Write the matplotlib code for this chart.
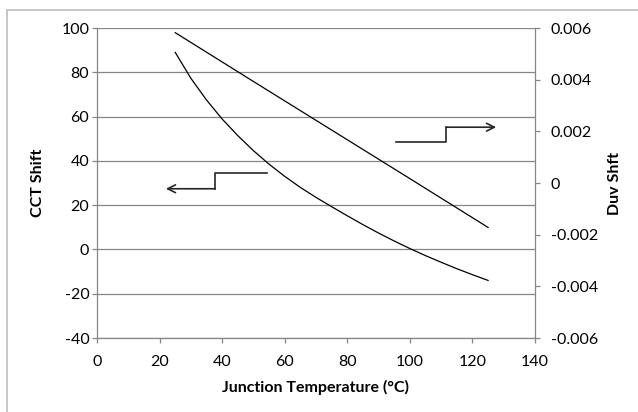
import matplotlib
matplotlib.use('Agg')
from matplotlib import pyplot as plt
from matplotlib.patches import Rectangle
from matplotlib.ticker import FuncFormatter, MultipleLocator

plt.rcParams['font.family'] = ['Lato', 'DejaVu Sans']
plt.rcParams['axes.unicode_minus'] = False

# junction temperature (deg C) vs CCT shift
temp_cct = [25, 30, 35, 40, 45, 50, 55, 60, 65, 70, 75, 80, 85, 90, 95,
            100, 105, 110, 115, 120, 125]
cct_shift = [89, 77.3, 67.5, 58.9, 51.4, 44.6, 38.5, 33.0, 28.0, 23.5, 19.3,
             15.2, 11.2, 7.4, 3.8, 0.4, -2.8, -5.8, -8.7, -11.4, -14.0]

# junction temperature (deg C) vs Duv shift
temp_duv = [25, 50, 75, 100, 125]
duv_shift = [0.00582, 0.00393, 0.00205, 0.00017, -0.00172]

# callout arrows (x in deg C, y in CCT units)
left_arrow_x = [54.2, 37.8, 37.8, 22.0]
left_arrow_y = [34.4, 34.4, 27.4, 27.4]
right_arrow_x = [95.7, 111.7, 111.7, 127.6]
right_arrow_y = [48.6, 48.6, 55.2, 55.2]

grey = '#868686'
W, H = 638, 412
fs = 11.5

fig = plt.figure(figsize=(W / 100, H / 100), dpi=100)
fig.patches.append(Rectangle((7 / W, -0.1), 1.2, 1 - 10 / H + 0.1,
                             transform=fig.transFigure, fill=False,
                             edgecolor='#bdbdbd', linewidth=1.2))

ax_l, ax_r, ax_t, ax_b = 97, 535, 28, 338
ax = fig.add_axes([ax_l / W, (H - ax_b) / H, (ax_r - ax_l) / W, (ax_b - ax_t) / H])
ax.set_xlim(0, 140)
ax.set_ylim(-40, 100)
ax.xaxis.set_major_locator(MultipleLocator(20))
ax.yaxis.set_major_locator(MultipleLocator(20))
ax.grid(axis='y', color=grey, linewidth=0.9)
ax.set_axisbelow(True)
for s in ['top', 'right']:
    ax.spines[s].set_visible(False)
for s in ['left', 'bottom']:
    ax.spines[s].set_color(grey)
    ax.spines[s].set_linewidth(0.9)
ax.tick_params(colors=grey, length=3.5, width=0.9, labelcolor='black',
               labelsize=fs)
ax.tick_params(axis='y', pad=2)
ax.tick_params(axis='x', pad=9)

ax.plot(temp_cct, cct_shift, color='black', linewidth=0.9)

ax.set_ylabel('CCT Shift', fontsize=fs, fontweight='bold')
ax.yaxis.set_label_coords((38 - ax_l) / (ax_r - ax_l), 0.5)
ax.set_xlabel('Junction Temperature (°C)', fontsize=fs, fontweight='bold')
ax.xaxis.set_label_coords(0.5, -(387 - ax_b) / (ax_b - ax_t))
ax.xaxis.label.set_va('center')
ax.yaxis.label.set_va('center')

# arrows pointing to each series' axis
ax.plot(left_arrow_x[:-1], left_arrow_y[:-1], color='#262626', linewidth=1.2)
ax.annotate('', xy=(left_arrow_x[-1], left_arrow_y[-1]),
            xytext=(left_arrow_x[-2], left_arrow_y[-2]),
            arrowprops=dict(arrowstyle='->', color='#262626', lw=1.2,
                            shrinkA=0, shrinkB=0, mutation_scale=14))
ax.plot(right_arrow_x[:-1], right_arrow_y[:-1], color='#262626', linewidth=1.2)
ax.annotate('', xy=(right_arrow_x[-1], right_arrow_y[-1]),
            xytext=(right_arrow_x[-2], right_arrow_y[-2]),
            arrowprops=dict(arrowstyle='->', color='#262626', lw=1.2,
                            shrinkA=0, shrinkB=0, mutation_scale=14))

ax2 = ax.twinx()
ax2.set_ylim(-0.006, 0.006)
ax2.yaxis.set_major_locator(MultipleLocator(0.002))
ax2.yaxis.set_major_formatter(FuncFormatter(
    lambda v, p: '0' if abs(v) < 1e-9 else '%.3f' % v))
for s in ['top', 'left', 'bottom']:
    ax2.spines[s].set_visible(False)
ax2.spines['right'].set_color(grey)
ax2.spines['right'].set_linewidth(0.9)
ax2.tick_params(colors=grey, length=3.5, width=0.9, labelcolor='black',
                labelsize=fs, pad=8)
ax2.plot(temp_duv, duv_shift, color='black', linewidth=0.9)
ax2.set_ylabel('Duv Shft', fontsize=fs, fontweight='bold', rotation=90)
ax2.yaxis.set_label_coords((615 - ax_l) / (ax_r - ax_l), 0.5)
ax2.yaxis.label.set_va('center')

fig.savefig('out.png', dpi=100)
